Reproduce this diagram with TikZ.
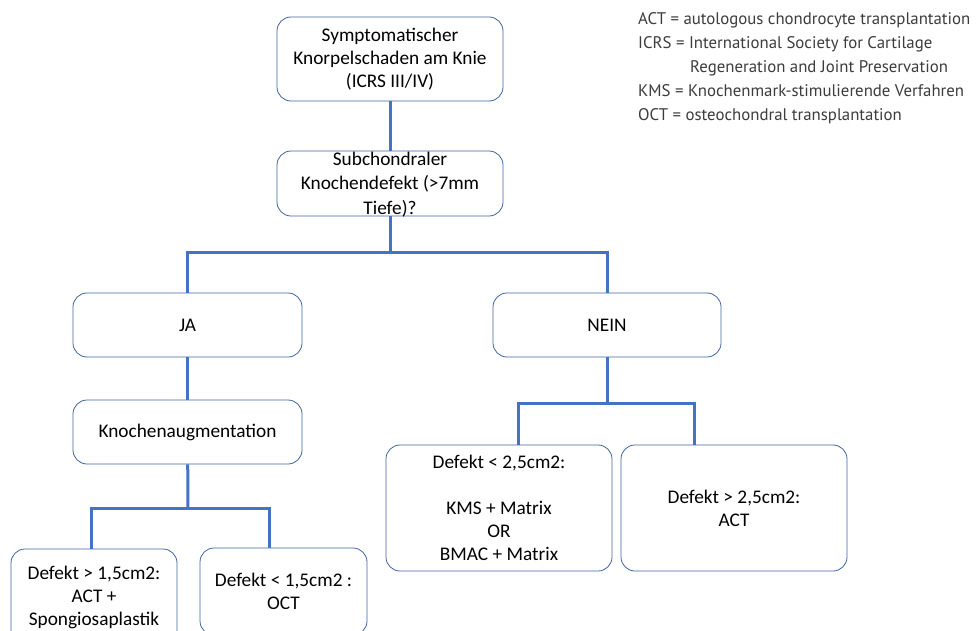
\documentclass[tikz,border=0pt]{standalone}
\usepackage{fontspec}
\setmainfont{Carlito}
\newfontfamily\legendfont{PT Sans}
\usetikzlibrary{positioning}
\definecolor{linkblue}{RGB}{68,114,196}
\definecolor{boxblue}{RGB}{65,100,160}
\definecolor{legendgray}{RGB}{60,60,60}
% text that may run over the edge of its box
\newcommand{\overfull}[1]{\smash{\begin{tabular}{@{}c@{}}#1\end{tabular}}}
\tikzset{
  box/.style={draw=boxblue, line width=0.8pt, rounded corners=14pt, align=center,
    inner sep=2pt, font=\fontsize{19.3}{23}\selectfont},
  link/.style={draw=linkblue, line width=3pt},
  legend/.style={anchor=base west, inner sep=0pt, text=legendgray,
    font=\legendfont\fontsize{16.8}{24}\selectfont}
}
\begin{document}
\begin{tikzpicture}[x=1pt,y=-1pt]
  \clip (0,0) rectangle (979,631);
  \fill[white] (0,0) rectangle (979,631);
  % boxes
  \node[box, minimum width=226pt, minimum height=84pt] (knie) at (390,59)
    {Symptomatischer\\Knorpelschaden am Knie\\(ICRS III/IV)};
  \node[box, minimum width=226pt, minimum height=65pt] (subch) at (390,183.5)
    {\raisebox{-13.5pt}{\overfull{Subchondraler\\[1.5pt]Knochendefekt (>7mm\\[1.5pt]Tiefe)?}}};
  \node[box, minimum width=229pt, minimum height=64pt] (ja) at (187.5,325) {JA};
  \node[box, minimum width=228pt, minimum height=64pt] (nein) at (607,325) {NEIN};
  \node[box, minimum width=229pt, minimum height=64pt] (augm) at (187.5,432) {Knochenaugmentation};
  \node[box, minimum width=166pt, minimum height=96pt] (grossJa) at (94,597)
    {Defekt > 1,5cm2:\\ACT +\\Spongiosaplastik};
  \node[box, minimum width=167pt, minimum height=87pt] (kleinJa) at (283.5,591.5)
    {Defekt < 1,5cm2 :\\OCT};
  \node[box, minimum width=226pt, minimum height=126pt] (kleinNein) at (499,508)
    {Defekt < 2,5cm2:\\[23pt]KMS + Matrix\\OR\\BMAC + Matrix};
  \node[box, minimum width=226pt, minimum height=126pt] (grossNein) at (734,508)
    {Defekt > 2,5cm2:\\ACT};
  % branch points
  \coordinate (split1) at (390,252);
  \coordinate (split2) at (188,508);
  \coordinate (split3) at (607,403);
  % connectors
  \draw[link] (knie) -- (subch);
  \draw[link] (subch) -- (split1);
  \draw[link] (split1) -| (ja);
  \draw[link] (split1) -| (nein);
  \draw[link] (ja) -- (augm);
  \draw[link] (augm) -- (split2);
  \draw[link] (split2) -| ([xshift=-3pt]grossJa.north);
  \draw[link] (split2) -| ([xshift=-14.5pt]kleinJa.north);
  \draw[link] (nein) -- (split3);
  \draw[link] (split3) -| ([xshift=19pt]kleinNein.north);
  \draw[link] (split3) -| ([xshift=-40pt]grossNein.north);
  % legend
  \node[legend] (leg1) at (638,25) {ACT = autologous chondrocyte transplantation};
  \node[legend] (leg2) at (638,49) {ICRS = International Society for Cartilage};
  \node[legend] (leg3) at (690,73) {Regeneration and Joint Preservation};
  \node[legend] (leg4) at (638,97) {KMS = Knochenmark-stimulierende Verfahren};
  \node[legend] (leg5) at (638,121) {OCT = osteochondral transplantation};
\end{tikzpicture}
\end{document}
